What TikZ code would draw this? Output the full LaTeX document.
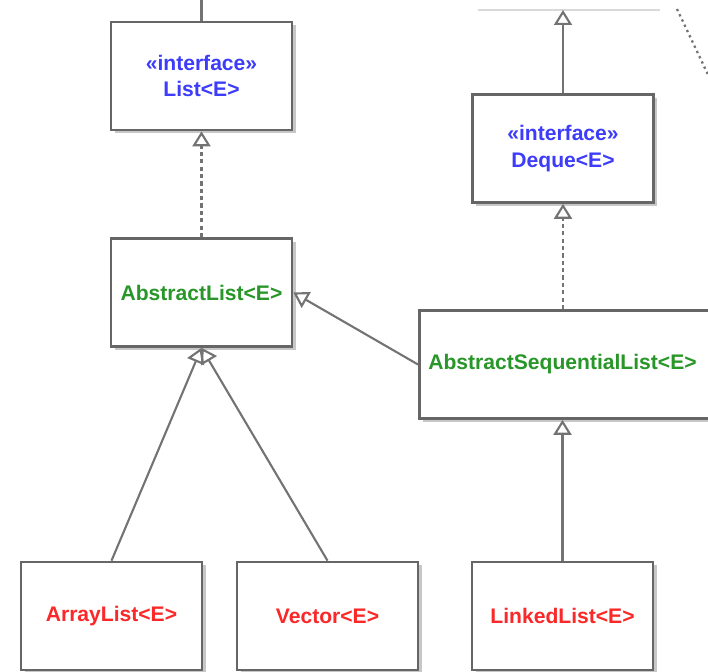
\documentclass[tikz,border=0pt]{standalone}
\usepackage{fontspec}
\setsansfont{Liberation Sans}
\usetikzlibrary{arrows.meta,shadows}
\definecolor{ifacecol}{RGB}{60,60,250}
\definecolor{abstrcol}{RGB}{40,150,40}
\definecolor{concrcol}{RGB}{250,40,40}
\begin{document}
\begin{tikzpicture}[font=\sffamily\bfseries\fontsize{12}{15.3}\selectfont,
  cls/.style={draw=black!60,line width=1.5pt,fill=white,align=center,
    minimum width=3.62cm,minimum height=2.16cm,
    general shadow={fill=black!22,shadow xshift=.07cm,shadow yshift=-.07cm}},
  iface/.style={cls,text=ifacecol}, abstr/.style={cls,text=abstrcol},
  concr/.style={cls,text=concrcol},
  extends/.style={draw=black!55,line width=1.2pt,-{Triangle[open,length=.3cm 0 0,width=.36cm 0 0]}},
  implements/.style={extends,dash pattern=on 2.4pt off 1.8pt}]
\useasboundingbox (0,0) rectangle (14.16,13.44);
\clip (0,0) rectangle (14.16,13.44);
% Interfaces on top, the abstract layer below, concrete classes at the bottom.
\node[iface] (list) at (4.03,11.92) {«interface»\\List<E>};
\node[iface] (deque) at (11.26,10.47) {«interface»\\Deque<E>};
\node[abstr] (alist) at (4.03,7.59) {AbstractList<E>};
\node[abstr,anchor=west,text width=5.68cm,align=left,inner xsep=.18cm] (aslist) at (8.36,6.15) {AbstractSequentialList<E>};
\node[concr] (arraylist) at (2.23,1.12) {ArrayList<E>};
\node[concr] (vector) at (6.55,1.12) {Vector<E>};
\node[concr] (linkedlist) at (11.25,1.12) {LinkedList<E>};
% Parts of the picture cut off at the edges.
\coordinate (listtop) at (4.03,13.6);
\coordinate (dequetop) at (11.26,13.24);
\coordinate (boxl) at (9.56,13.24);
\coordinate (boxr) at (13.2,13.24);
\coordinate (dotfrom) at (13.54,13.26);
\coordinate (dotto) at (14.22,11.82);
\draw[black!15,line width=1pt] (boxl) -- (boxr);
\draw[black!55,dotted,line width=1.3pt] (dotfrom) -- (dotto);
\draw[draw=black!55,line width=1.2pt] (list) -- (listtop);
\draw[extends] (deque) -- (dequetop);
\draw[implements] (alist) -- (list);
\draw[implements] (deque |- aslist.north) -- (deque);
\draw[extends] (aslist.west) -- (alist.east);
\draw[extends] (arraylist.north) -- (alist.south);
\draw[extends] (vector.north) -- (alist.south);
\draw[extends] (linkedlist) -- (linkedlist |- aslist.south);
\end{tikzpicture}
\end{document}
